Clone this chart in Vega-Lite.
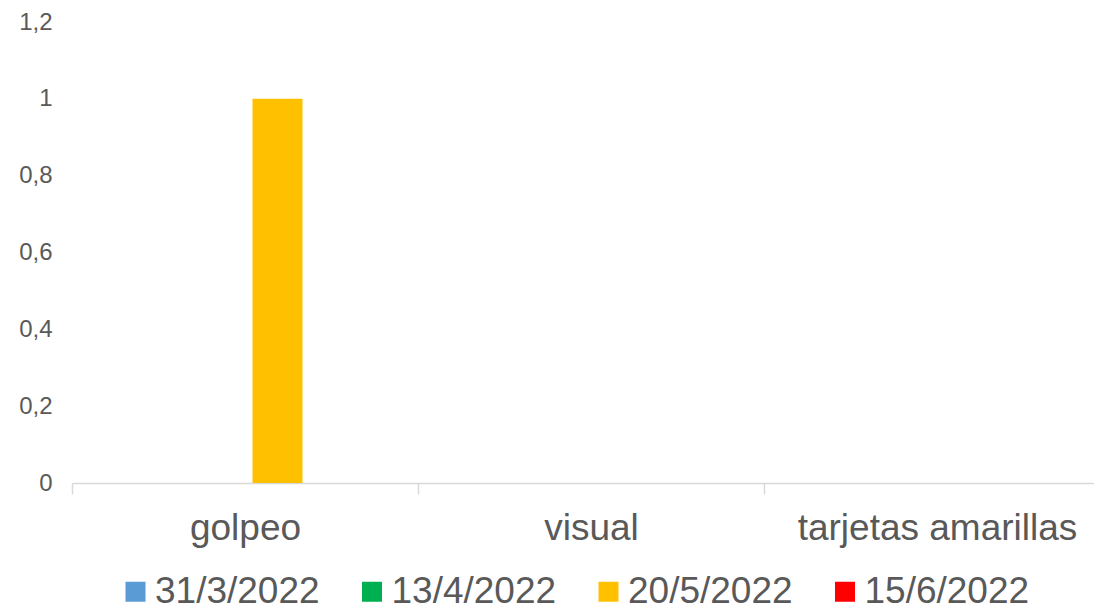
{
  "$schema": "https://vega.github.io/schema/vega-lite/v6.json",
  "width": 1022,
  "height": 461,
  "autosize": {"type": "none"},
  "padding": {"left": 72, "top": 22, "right": 0, "bottom": 124},
  "background": "white",
  "config": {
    "view": {"stroke": null},
    "font": "Liberation Sans",
    "axis": {"labelFont": "Liberation Sans", "labelColor": "#595959", "grid": false, "title": null},
    "legend": {"labelFont": "Liberation Sans"}
  },
  "data": {
    "values": [
      {"categoria": "golpeo", "fecha": "31/3/2022", "valor": 0},
      {"categoria": "golpeo", "fecha": "13/4/2022", "valor": 0},
      {"categoria": "golpeo", "fecha": "20/5/2022", "valor": 1},
      {"categoria": "golpeo", "fecha": "15/6/2022", "valor": 0},
      {"categoria": "visual", "fecha": "31/3/2022", "valor": 0},
      {"categoria": "visual", "fecha": "13/4/2022", "valor": 0},
      {"categoria": "visual", "fecha": "20/5/2022", "valor": 0},
      {"categoria": "visual", "fecha": "15/6/2022", "valor": 0},
      {"categoria": "tarjetas amarillas", "fecha": "31/3/2022", "valor": 0},
      {"categoria": "tarjetas amarillas", "fecha": "13/4/2022", "valor": 0},
      {"categoria": "tarjetas amarillas", "fecha": "20/5/2022", "valor": 0},
      {"categoria": "tarjetas amarillas", "fecha": "15/6/2022", "valor": 0}
    ]
  },
  "mark": {"type": "bar"},
  "encoding": {
    "x": {
      "field": "categoria",
      "type": "nominal",
      "sort": ["golpeo", "visual", "tarjetas amarillas"],
      "scale": {"range": [0, 1038], "paddingInner": 0, "paddingOuter": 0},
      "axis": {
        "labelAngle": 0,
        "labelFontSize": 37,
        "labelPadding": 16,
        "labelLimit": 0,
        "tickSize": 11,
        "tickBand": "extent",
        "tickColor": "#d9d9d9",
        "tickWidth": 1.5,
        "domainColor": "#d9d9d9",
        "domainWidth": 1.5
      }
    },
    "xOffset": {
      "field": "fecha",
      "type": "nominal",
      "sort": ["31/3/2022", "13/4/2022", "20/5/2022", "15/6/2022"],
      "scale": {"paddingInner": 0.2308, "paddingOuter": 0.777}
    },
    "y": {
      "field": "valor",
      "type": "quantitative",
      "scale": {"domain": [0, 1.2], "nice": false},
      "axis": {
        "values": [0, 0.2, 0.4, 0.6, 0.8, 1, 1.2],
        "domain": false,
        "ticks": false,
        "tickSize": 0,
        "labelPadding": 20,
        "labelFontSize": 24,
        "labelExpr": "replace(format(datum.value, '.1~f'), '.', ',')"
      }
    },
    "color": {
      "field": "fecha",
      "type": "nominal",
      "sort": ["31/3/2022", "13/4/2022", "20/5/2022", "15/6/2022"],
      "scale": {
        "domain": ["31/3/2022", "13/4/2022", "20/5/2022", "15/6/2022"],
        "range": ["#5B9BD5", "#00B050", "#FFC000", "#FF0000"]
      },
      "legend": {
        "title": null,
        "orient": "none",
        "direction": "horizontal",
        "legendX": 45,
        "legendY": 551,
        "padding": 0,
        "symbolType": "square",
        "symbolSize": 400,
        "symbolStrokeWidth": 0,
        "labelFontSize": 37,
        "labelColor": "#595959",
        "labelOffset": 1,
        "columnPadding": 33.5,
        "labelLimit": 0
      }
    }
  }
}
